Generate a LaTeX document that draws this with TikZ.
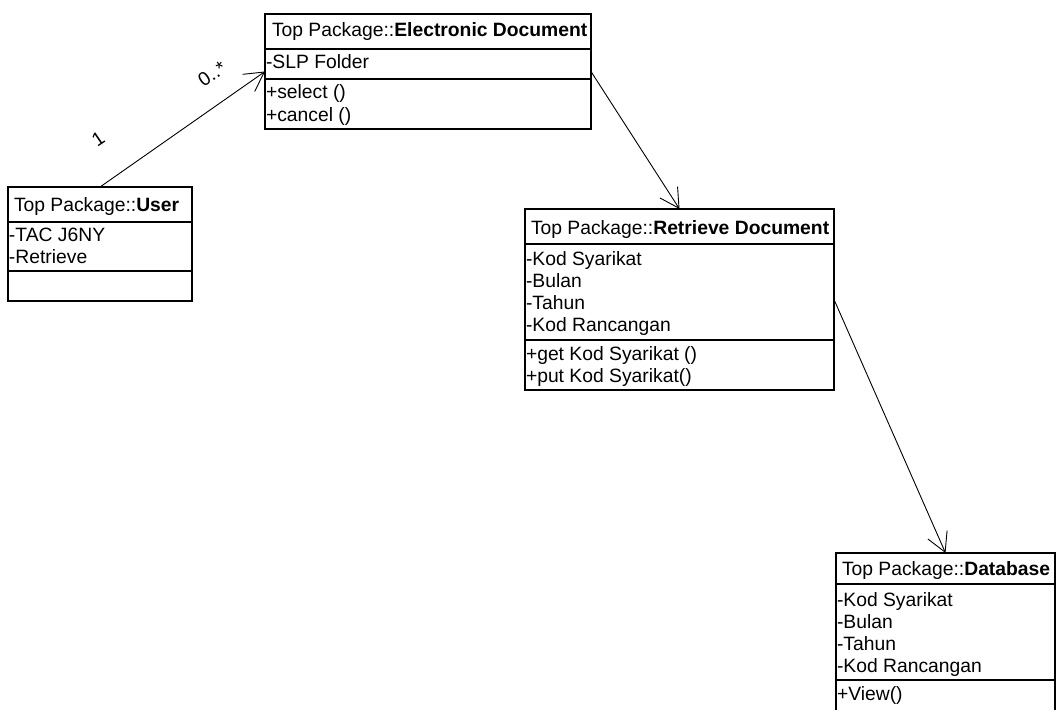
\documentclass[tikz,border=0pt]{standalone}
\usepackage{fontspec}
\setmainfont{Liberation Sans}
\usetikzlibrary{arrows.meta}
\begin{document}
\begin{tikzpicture}[x=1pt,y=-1pt,
  every node/.style={inner sep=0pt, outer sep=0pt, font=\fontsize{19.3}{22}\selectfont},
  classbox/.style={draw, line width=1.5pt, rectangle, anchor=north west},
  txt/.style={anchor=base west},
  sep/.style={line width=1.5pt},
  assoc/.style={line width=0.9pt, -{Straight Barb[length=19pt,width=21pt]}},
  mult/.style={rotate=34}]
\useasboundingbox (0,0) rectangle (1056,709);

% User
\node[classbox, minimum width=184pt, minimum height=114pt] (user) at (8,187) {};
\draw[sep] (8,222) -- (192,222);
\draw[sep] (8,271) -- (192,271);
\node[txt] (userT) at (14,211) {Top Package::\textbf{User}};
\node[txt] (userA1) at (9,241) {-TAC J6NY};
\node[txt] (userA2) at (9,263) {-Retrieve};

% Electronic Document
\node[classbox, minimum width=326pt, minimum height=115pt] (ed) at (265,14) {};
\draw[sep] (265,49) -- (591,49);
\draw[sep] (265,79) -- (591,79);
\node[txt] (edT) at (272,37) {Top Package::\textbf{Electronic Document}};
\node[txt] (edA1) at (266,68) {-SLP Folder};
\node[txt] (edO1) at (266,98) {+select ()};
\node[txt] (edO2) at (266,121) {+cancel ()};

% Retrieve Document
\node[classbox, minimum width=309pt, minimum height=181pt] (ret) at (525,209) {};
\draw[sep] (525,244) -- (834,244);
\draw[sep] (525,340) -- (834,340);
\node[txt] (retT) at (531,234) {Top Package::\textbf{Retrieve Document}};
\node[txt] (retA1) at (526,265) {-Kod Syarikat};
\node[txt] (retA2) at (526,287) {-Bulan};
\node[txt] (retA3) at (526,309) {-Tahun};
\node[txt] (retA4) at (526,331) {-Kod Rancangan};
\node[txt] (retO1) at (526,360) {+get Kod Syarikat ()};
\node[txt] (retO2) at (526,382) {+put Kod Syarikat()};

% Database
\node[classbox, minimum width=219pt, minimum height=160pt] (db) at (836,553) {};
\draw[sep] (836,584) -- (1055,584);
\draw[sep] (836,680) -- (1055,680);
\node[txt] (dbT) at (842,575) {Top Package::\textbf{Database}};
\node[txt] (dbA1) at (837,606) {-Kod Syarikat};
\node[txt] (dbA2) at (837,628) {-Bulan};
\node[txt] (dbA3) at (837,650) {-Tahun};
\node[txt] (dbA4) at (837,672) {-Kod Rancangan};
\node[txt] (dbO1) at (837,700) {+View()};

% Associations
\draw[assoc] (user.north) -- (ed.west);
\draw[assoc] (ed.east) -- (ret.north);
\draw[assoc] (ret.east) -- (db.north);

% Multiplicities
\node[mult] (m1) at (98,139) {1};
\node[mult] (m0) at (212,74) {0..*};
\end{tikzpicture}
\end{document}
